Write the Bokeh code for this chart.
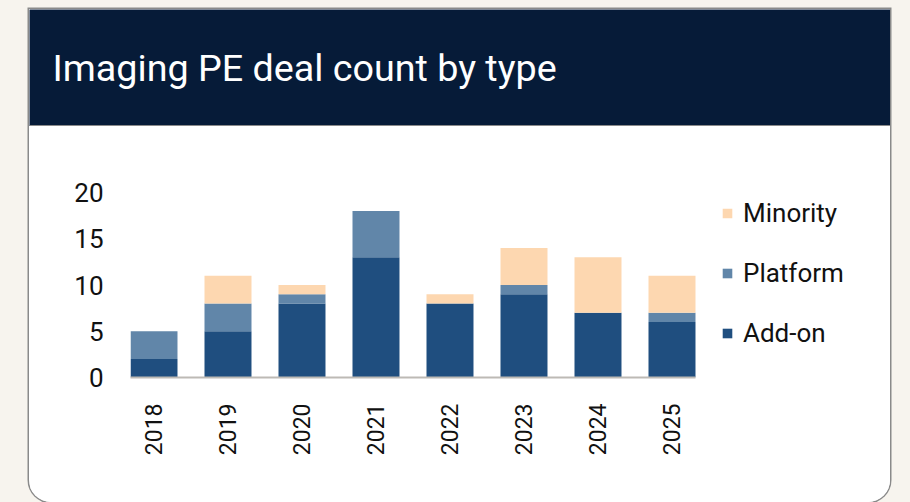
import math
from bokeh.plotting import figure
from bokeh.layouts import column
from bokeh.models import BoxAnnotation, Label, Legend, LegendItem, FixedTicker, Range1d
from bokeh.embed import file_html
from bokeh.resources import INLINE

# ---- data ----
years = ["2018", "2019", "2020", "2021", "2022", "2023", "2024", "2025"]
addon = [2, 5, 8, 13, 8, 9, 7, 6]
platform = [3, 3, 1, 5, 0, 1, 0, 1]
minority = [0, 3, 1, 0, 1, 4, 6, 4]
series = ["Add-on", "Platform", "Minority"]
y_ticks = [0, 5, 10, 15, 20]
title_text = "Imaging PE deal count by type"

colors = ["#1F4E7F", "#6186A9", "#FDD7B0"]
NAVY = "#061B38"
BEIGE = "#F7F4EE"
BORDER = "#8A8A8A"
TEXT = "#111111"

CARD_W = 861
HEAD_H = 117
CHART_H = 376

# ---- header (title band) ----
head = figure(width=CARD_W, height=HEAD_H, output_backend="svg", toolbar_location=None,
              x_range=Range1d(0, 1), y_range=Range1d(0, 1),
              x_axis_type=None, y_axis_type=None, min_border=0)
head.frame_align = False
head.grid.visible = False
head.outline_line_color = None
head.background_fill_color = NAVY
head.border_fill_color = NAVY
head.add_layout(BoxAnnotation(bottom=0, top=1.5, bottom_units="screen", top_units="screen",
                              fill_color=BORDER, fill_alpha=1, line_color=None))
head.add_layout(Label(x=23, y=59, x_units="screen", y_units="screen", text=title_text,
                      text_color="white", text_font="Roboto", text_font_size="37.7px",
                      text_baseline="alphabetic"))

# ---- chart ----
xs = [i + 0.5 for i in range(len(years))]
bar_w = 0.635
px_per_unit = 74.0
frame_w = 715
x0 = 0.5 - bar_w / 2
source = dict(x=xs, **{"Add-on": addon, "Platform": platform, "Minority": minority})

p = figure(width=CARD_W, height=CHART_H, output_backend="svg", toolbar_location=None,
           x_range=Range1d(x0, x0 + frame_w / px_per_unit), y_range=Range1d(0, 20),
           min_border_left=101, min_border_right=CARD_W - 101 - frame_w,
           min_border_top=66, min_border_bottom=CHART_H - 66 - 185)
p.frame_align = False
p.border_fill_color = "white"
p.background_fill_color = "white"
p.outline_line_color = None
p.grid.visible = False

rs = p.vbar_stack(series, x="x", width=bar_w, color=colors, source=source, line_color=None)

p.yaxis.ticker = FixedTicker(ticks=y_ticks)
p.yaxis.axis_line_color = None
p.yaxis.major_tick_line_color = None
p.yaxis.minor_tick_line_color = None
p.yaxis.major_tick_out = 0
p.yaxis.major_label_standoff = 27
p.yaxis.major_label_text_font = "Roboto"
p.yaxis.major_label_text_font_size = "26px"
p.yaxis.major_label_text_color = TEXT

p.xaxis.ticker = FixedTicker(ticks=xs)
p.xaxis.bounds = (x0, len(years) - 0.5 + bar_w / 2)
p.xaxis.major_label_overrides = {x: y for x, y in zip(xs, years)}
p.xaxis.axis_line_color = "#BDBAB5"
p.xaxis.axis_line_width = 2
p.xaxis.major_tick_line_color = None
p.xaxis.minor_tick_line_color = None
p.xaxis.major_tick_out = 0
p.xaxis.major_label_standoff = 26
p.xaxis.major_label_orientation = math.pi / 2
p.xaxis.major_label_text_font = "Roboto"
p.xaxis.major_label_text_font_size = "23px"
p.xaxis.major_label_text_color = TEXT

items = [LegendItem(label=s, renderers=[r]) for s, r in zip(series, rs)][::-1]
legend = Legend(items=items, location=(591, 29), orientation="vertical",
                glyph_width=12, glyph_height=12, label_height=30, spacing=30,
                label_standoff=10, padding=0, margin=0,
                border_line_color=None, background_fill_alpha=0,
                label_text_font="Roboto", label_text_font_size="26px", label_text_color=TEXT)
p.add_layout(legend, "center")

card = column(head, p, margin=(9, 0, 0, 29),
              styles={"border-radius": "0 0 22px 22px", "overflow": "hidden",
                      "background-color": "white",
                      "box-shadow": "0 0 0 1.5px " + BORDER + ", 0 0 0 400px " + BEIGE})

open("out.html", "w").write(file_html(card, INLINE))
